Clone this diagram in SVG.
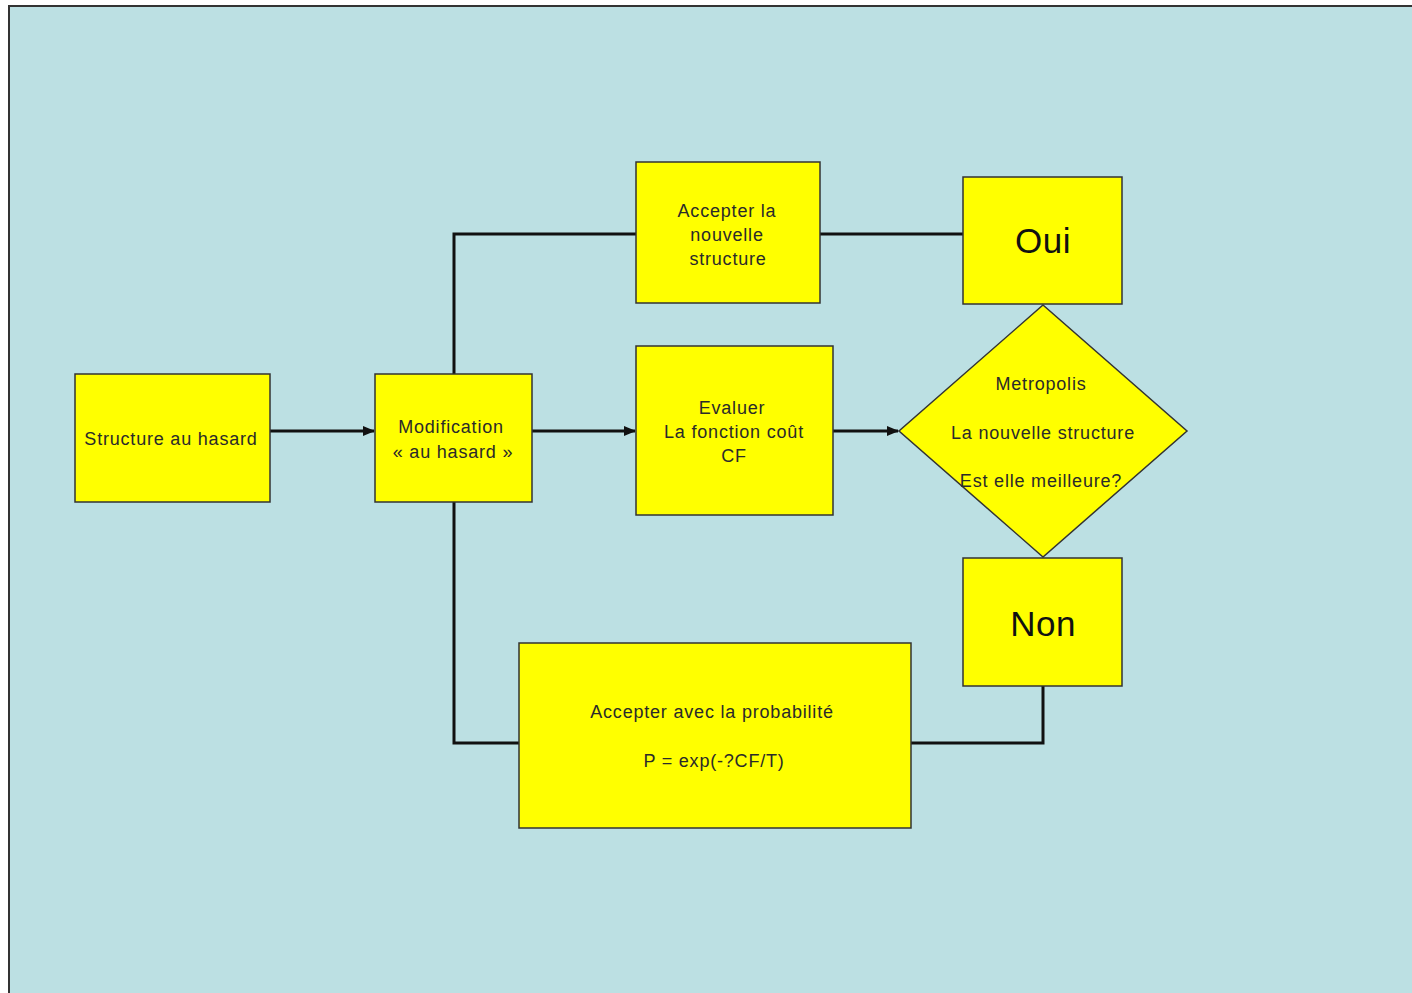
<svg xmlns="http://www.w3.org/2000/svg" width="1412" height="993" viewBox="0 0 1412 993">
<defs>
<style>
.box{fill:#FFFF00;stroke:#333333;stroke-width:1.5}
.t{font-family:"Liberation Sans",Arial,sans-serif;font-size:18px;letter-spacing:0.8px;fill:#2a2a2a;text-anchor:middle}
.big{font-family:"Liberation Sans",Arial,sans-serif;font-size:35px;letter-spacing:0.5px;fill:#111111;text-anchor:middle}
.ln{fill:none;stroke:#111111;stroke-width:3}
</style>
<marker id="arr" markerWidth="12" markerHeight="12" refX="11" refY="6" orient="auto" markerUnits="userSpaceOnUse">
<path d="M0,1 L12,6 L0,11 Z" fill="#111111"/>
</marker>
</defs>
<rect x="0" y="0" width="1412" height="993" fill="#FFFFFF"/>
<rect x="9" y="6" width="1420" height="1000" fill="#BCE0E3" stroke="#333333" stroke-width="2"/>
<g id="connectors">
<line class="ln" x1="270" y1="431" x2="374" y2="431" marker-end="url(#arr)"/>
<line class="ln" x1="532" y1="431" x2="635" y2="431" marker-end="url(#arr)"/>
<line class="ln" x1="833" y1="431" x2="898" y2="431" marker-end="url(#arr)"/>
<polyline class="ln" points="454,374 454,234 636,234"/>
<line class="ln" x1="820" y1="234" x2="963" y2="234"/>
<polyline class="ln" points="454,502 454,743 519,743"/>
<polyline class="ln" points="911,743 1043,743 1043,686"/>
</g>
<g id="structure">
<rect class="box" x="75" y="374" width="195" height="128"/>
<text class="t" x="171" y="445">Structure au hasard</text>
</g>
<g id="modification">
<rect class="box" x="375" y="374" width="157" height="128"/>
<text class="t" x="451" y="433">Modification</text>
<text class="t" x="453" y="458">« au hasard »</text>
</g>
<g id="accepter">
<rect class="box" x="636" y="162" width="184" height="141"/>
<text class="t" x="727" y="217">Accepter la</text>
<text class="t" x="727" y="241">nouvelle</text>
<text class="t" x="728" y="265">structure</text>
</g>
<g id="oui">
<rect class="box" x="963" y="177" width="159" height="127"/>
<text class="big" x="1043" y="253">Oui</text>
</g>
<g id="evaluer">
<rect class="box" x="636" y="346" width="197" height="169"/>
<text class="t" x="732" y="414">Evaluer</text>
<text class="t" x="734" y="438">La fonction coût</text>
<text class="t" x="734" y="462">CF</text>
</g>
<g id="metropolis">
<polygon class="box" points="1043,305 1187,431 1043,557 899,431"/>
<text class="t" x="1041" y="390">Metropolis</text>
<text class="t" x="1043" y="439">La nouvelle structure</text>
<text class="t" x="1041" y="487">Est elle meilleure?</text>
</g>
<g id="non">
<rect class="box" x="963" y="558" width="159" height="128"/>
<text class="big" x="1043" y="636">Non</text>
</g>
<g id="probabilite">
<rect class="box" x="519" y="643" width="392" height="185"/>
<text class="t" x="712" y="718">Accepter avec la probabilité</text>
<text class="t" x="714" y="767">P = exp(-?CF/T)</text>
</g>
</svg>
